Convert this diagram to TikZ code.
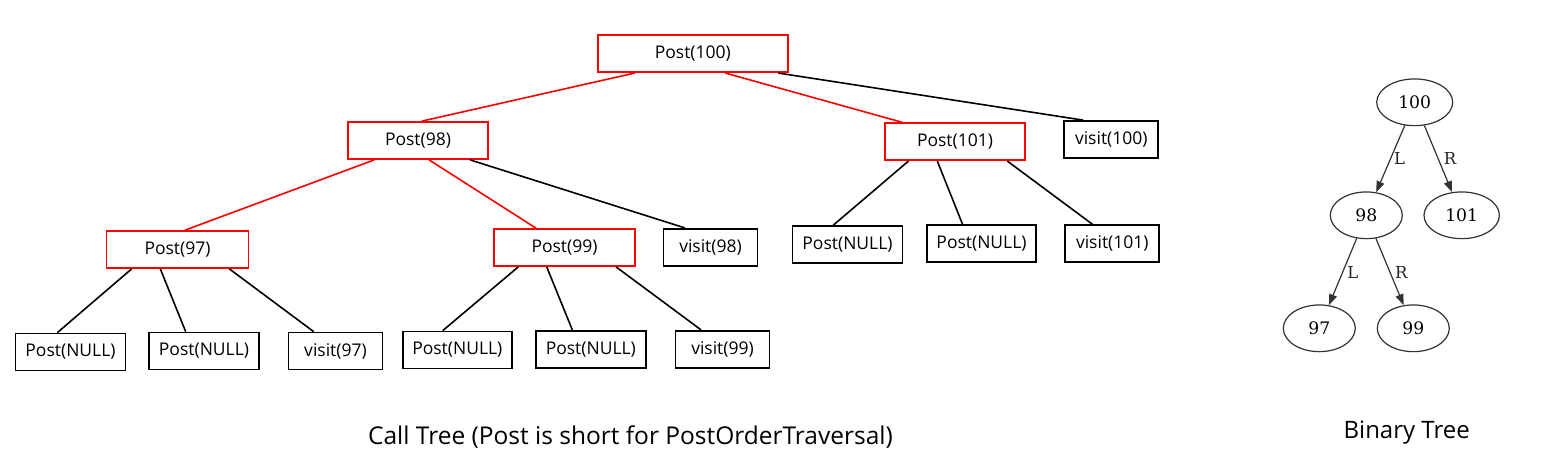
\documentclass[tikz,border=0pt]{standalone}
\usepackage{fontspec}
\setmainfont{Open Sans}
\newfontfamily\dvs{DejaVu Serif}
\usetikzlibrary{shapes.geometric,arrows.meta}
\tikzset{
  cbox/.style={draw=black,line width=1.7pt,minimum height=37pt,inner sep=0pt,font=\fontsize{17.5}{20}\selectfont},
  rbox/.style={cbox,draw=red},
  bedge/.style={draw=black,line width=1.6pt},
  redge/.style={draw=red,line width=1.6pt},
  bnode/.style={ellipse,draw=black!80,line width=1.2pt,inner sep=0pt,minimum height=46.7pt,font=\dvs\fontsize{17.2}{19}\selectfont},
  barrow/.style={draw=black!80,line width=1.2pt,-{Triangle[length=11pt,width=8pt]}},
  blabel/.style={font=\dvs\fontsize{16.5}{19}\selectfont,text=black!85,inner sep=0pt},
  caption/.style={font=\fontsize{24.5}{28}\selectfont,inner sep=0pt}
}
\begin{document}
\begin{tikzpicture}[x=1pt,y=-1pt]
\useasboundingbox[fill=white] (0,0) rectangle (1545,456);
% call tree
\node[rbox,minimum width=190pt] (p100) at (692.8,53.7) {Post(100)};
\node[rbox,minimum width=140pt] (p98) at (418,140.5) {Post(98)};
\node[rbox,minimum width=140pt] (p101) at (955,141.7) {Post(101)};
\node[cbox,minimum width=94pt] (v100) at (1111.3,139.5) {visit(100)};
\node[rbox,minimum width=142pt] (p97) at (177.5,249.5) {Post(97)};
\node[rbox,minimum width=141pt] (p99) at (564.5,247.5) {Post(99)};
\node[cbox,minimum width=94pt] (v98) at (710.5,247.3) {visit(98)};
\node[cbox,minimum width=110pt] (n5) at (847.5,244.5) {Post(NULL)};
\node[cbox,minimum width=109pt] (n6) at (981.5,243.5) {Post(NULL)};
\node[cbox,minimum width=94pt] (v101) at (1112.3,243.5) {visit(101)};
\node[cbox,minimum width=110pt] (n1) at (70.5,352) {Post(NULL)};
\node[cbox,minimum width=110pt] (n2) at (204,351) {Post(NULL)};
\node[cbox,minimum width=94pt] (v97) at (335.5,351) {visit(97)};
\node[cbox,minimum width=109pt] (n3) at (457.3,350) {Post(NULL)};
\node[cbox,minimum width=110pt] (n4) at (590.8,349.2) {Post(NULL)};
\node[cbox,minimum width=94pt] (v99) at (722.5,349.2) {visit(99)};
% edges
\draw[redge] ([xshift=-58.1pt]p100.south) -- ([xshift=3.7pt]p98.north);
\draw[redge] ([xshift=32.5pt]p100.south) -- ([xshift=-52.7pt]p101.north);
\draw[bedge] ([xshift=85.5pt]p100.south) -- ([xshift=-28pt]v100.north);
\draw[redge] ([xshift=-43.7pt]p98.south) -- ([xshift=7.5pt]p97.north);
\draw[redge] ([xshift=11pt]p98.south) -- ([xshift=-28.5pt]p99.north);
\draw[bedge] ([xshift=52pt]p98.south) -- ([xshift=-25.5pt]v98.north);
\draw[bedge] ([xshift=-46.5pt]p101.south) -- ([xshift=-14.2pt]n5.north);
\draw[bedge] ([xshift=-17.7pt]p101.south) -- ([xshift=-19pt]n6.north);
\draw[bedge] ([xshift=52.3pt]p101.south) -- ([xshift=-20pt]v101.north);
\draw[bedge] ([xshift=-45.8pt]p97.south) -- ([xshift=-13.2pt]n1.north);
\draw[bedge] ([xshift=-17.2pt]p97.south) -- ([xshift=-18.3pt]n2.north);
\draw[bedge] ([xshift=51.8pt]p97.south) -- ([xshift=-21.8pt]v97.north);
\draw[bedge] ([xshift=-46.2pt]p99.south) -- ([xshift=-14.6pt]n3.north);
\draw[bedge] ([xshift=-17.8pt]p99.south) -- ([xshift=-18.5pt]n4.north);
\draw[bedge] ([xshift=51.5pt]p99.south) -- ([xshift=-21.5pt]v99.north);
\node[caption,anchor=base] (cap1) at (630.5,444.3) {Call Tree (Post is short for PostOrderTraversal)};
% binary tree
\node[bnode,minimum width=76pt] (b100) at (1414.7,102.3) {100};
\node[bnode,minimum width=72pt] (b98) at (1366.3,215.3) {98};
\node[bnode,minimum width=75.4pt] (b101) at (1461.7,215.3) {101};
\node[bnode,minimum width=72pt] (b97) at (1319.3,328.3) {97};
\node[bnode,minimum width=72pt] (b99) at (1413.3,328.3) {99};
\draw[barrow] (b100) -- (b98);
\draw[barrow] (b100) -- (b101);
\draw[barrow] (b98) -- (b97);
\draw[barrow] (b98) -- (b99);
\node[blabel] (l1) at (1399.7,158.5) {L};
\node[blabel] (r1) at (1450,158.5) {R};
\node[blabel] (l2) at (1352.8,272.2) {L};
\node[blabel] (r2) at (1401.3,272.2) {R};
\node[caption,font=\fontsize{24}{28}\selectfont,anchor=base] (cap2) at (1406.7,438.3) {Binary Tree};
\end{tikzpicture}
\end{document}
